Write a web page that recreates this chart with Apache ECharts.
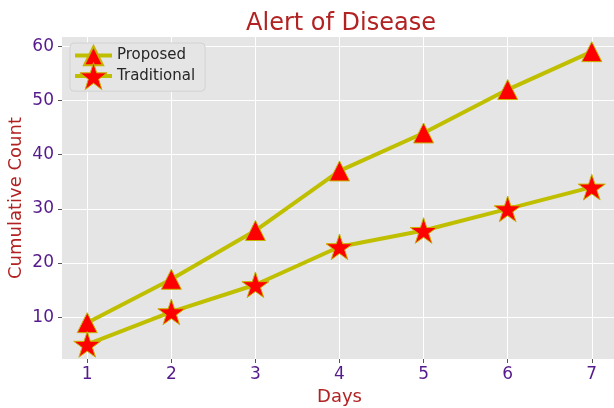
<!DOCTYPE html>
<html><head><meta charset="utf-8">
<script src="https://cdn.jsdelivr.net/npm/echarts@6/dist/echarts.min.js"></script>
<style>html,body{margin:0;padding:0;background:#fff}#c{width:614px;height:408px}</style>
</head><body><div id="c"></div>
<script>
const days = [1, 2, 3, 4, 5, 6, 7];
const proposed = [9, 17, 26, 37, 44, 52, 59];
const traditional = [5, 11, 16, 23, 26, 30, 34];
const yTicks = [10, 20, 30, 40, 50, 60];
const xTicks = [1, 2, 3, 4, 5, 6, 7];

const chart = echarts.init(document.getElementById('c'), null, {renderer: 'canvas'});
const font = 'DejaVu Sans';
const pair = arr => days.map((d, i) => [d, arr[i]]);
const lineCol = '#BFBF00';
const starPath = 'path://M50,0 L61.8,36.2 L100,36.2 L69.1,58.8 L80.9,95.1 L50,72.7 L19.1,95.1 L30.9,58.8 L0,36.2 L38.2,36.2 Z';
const legendText = {fontSize: 15, color: '#262626', fontFamily: font};
chart.setOption({
  animation: false,
  backgroundColor: '#fff',
  title: {text: 'Alert of Disease', left: 336, textAlign: 'center', top: 7,
    textStyle: {color: '#B22222', fontSize: 24, fontWeight: 'normal', fontFamily: font}},
  grid: {left: 62, top: 37, right: -3, bottom: 49, backgroundColor: '#E5E5E5', show: true, borderWidth: 0,
    outerBoundsMode: 'none', containLabel: false},
  legend: [
    {left: 70, top: 43, orient: 'vertical', itemWidth: 37, itemHeight: 24, z: 4,
      backgroundColor: '#E5E5E5', borderColor: '#D2D2D2', borderWidth: 1, borderRadius: 4, padding: [2, 19, 25, 3],
      lineStyle: {width: 4}, textStyle: legendText, data: ['Proposed']},
    {left: 70, top: 62, orient: 'vertical', itemWidth: 37, itemHeight: 34, z: 5,
      padding: [0, 6, 0, 3], itemStyle: {borderWidth: 1},
      lineStyle: {width: 4}, textStyle: legendText, data: ['Traditional']}
  ],
  xAxis: {type: 'value', min: 0.7, max: 7.3,
    name: 'Days', nameLocation: 'middle', nameGap: 29, nameMoveOverlap: false,
    nameTextStyle: {color: '#B22222', fontSize: 18, fontFamily: font},
    axisLine: {show: false},
    axisTick: {show: true, customValues: xTicks, length: 4, lineStyle: {color: '#555'}},
    axisLabel: {customValues: xTicks, color: '#551A8B', fontSize: 17, fontFamily: font, margin: 7},
    splitLine: {show: true, lineStyle: {color: '#fff', width: 1}}},
  yAxis: {type: 'value', min: 2.3, max: 61.7,
    name: 'Cumulative Count', nameLocation: 'middle', nameGap: 37, nameMoveOverlap: false,
    nameTextStyle: {color: '#B22222', fontSize: 18, fontFamily: font},
    axisLine: {show: false},
    axisTick: {show: true, customValues: yTicks, length: 4, lineStyle: {color: '#555'}},
    axisLabel: {customValues: yTicks, color: '#551A8B', fontSize: 17, fontFamily: font, margin: 8},
    splitLine: {show: true, lineStyle: {color: '#fff', width: 1}}},
  series: [
    {name: 'Proposed', type: 'line', data: pair(proposed), symbol: 'triangle', symbolSize: 20,
      lineStyle: {color: lineCol, width: 4}, itemStyle: {color: '#FF0000', borderColor: '#C8B400', borderWidth: 1}},
    {name: 'Traditional', type: 'line', data: pair(traditional),
      symbol: starPath, symbolSize: 27, symbolKeepAspect: true,
      lineStyle: {color: lineCol, width: 4}, itemStyle: {color: '#FF0000', borderColor: '#C8B400', borderWidth: 1}}
  ]
});
</script></body></html>
